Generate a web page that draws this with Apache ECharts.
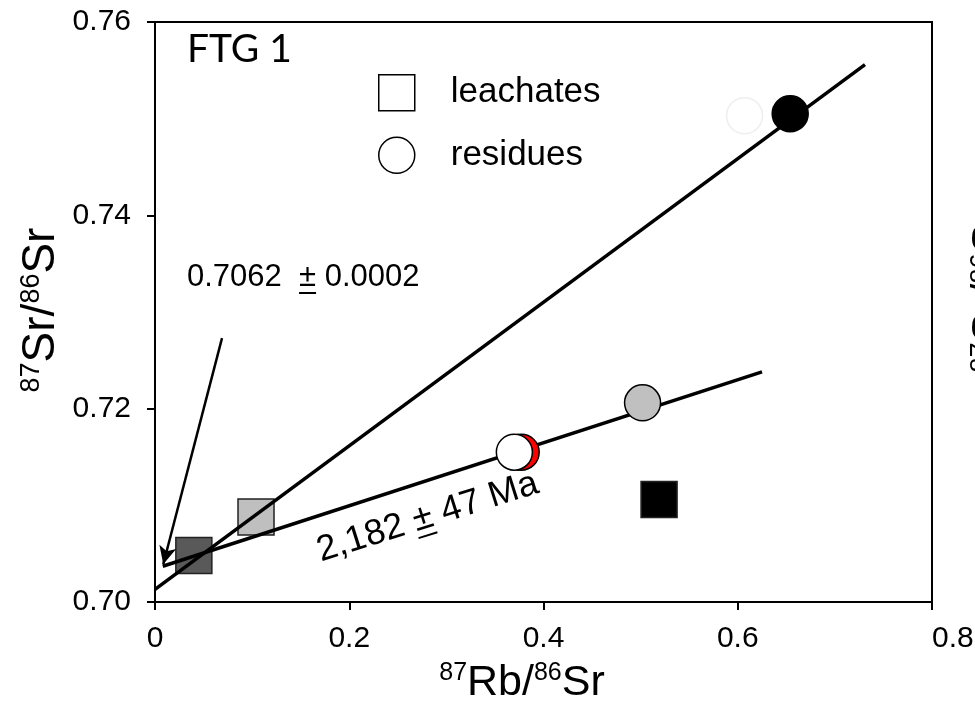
<!DOCTYPE html>
<html><head><meta charset="utf-8">
<script src="https://cdn.jsdelivr.net/npm/echarts@6/dist/echarts.min.js"></script>
<style>html,body{margin:0;padding:0;background:#fff}#c{width:975px;height:708px}</style>
</head><body><div id="c"></div>
<script>
// ---- data ----
const xTicks = [0, 0.2, 0.4, 0.6, 0.8];
const yTicks = [0.70, 0.72, 0.74, 0.76];
const leachNames = ['L1', 'L2', 'L3'];
const leachRb = [0.040, 0.104, 0.519];
const leachSr = [0.7048, 0.7088, 0.7106];
const resNames = ['R0', 'R1', 'R2', 'R3', 'R4'];
const resRb = [0.607, 0.377, 0.370, 0.502, 0.654];
const resSr = [0.7503, 0.7155, 0.7155, 0.7206, 0.7505];
const isoA_Rb = [0, 0.731];
const isoA_Sr = [0.7013, 0.7556];
const isoB_Rb = [0.008, 0.625];
const isoB_Sr = [0.7037, 0.7238];
const arrowRb = [0.069, 0.0085];
const arrowSr = [0.7273, 0.7039];
const initialText = ['0.7062  ', '±', ' 0.0002'];
const ageText = ['2,182 ', '±', ' 47 Ma'];
const sampleLabel = 'FTG 1';

// ---- styles ----
const leachFill = ['#595959', '#bfbfbf', '#000000'];
const resFill = ['#ffffff', '#ff0000', '#ffffff', '#c0c0c0', '#000000'];
const resBorder = ['#eeeeee', '#000', '#000', '#000', '#000'];
const FONT = '"Liberation Sans", Arial, sans-serif';

const pairs = (xs, ys) => xs.map((x, i) => [x, ys[i]]);
const ctx = document.createElement('canvas').getContext('2d');
function w(str, font) { ctx.font = font; return ctx.measureText(str).width; }

const annFont = '31px ' + FONT;
const ageFont = '36px ' + FONT;
const ia = w(initialText[0], annFont), ib = w(initialText[1], annFont);
const aa = w(ageText[0], ageFont), ab = w(ageText[1], ageFont);

const chart = echarts.init(document.getElementById('c'), null, {renderer: 'canvas'});
const richX = {
  m: {fontSize: 43, fontFamily: FONT, color: '#000', lineHeight: 46, verticalAlign: 'bottom'},
  s: {fontSize: 25, fontFamily: FONT, color: '#000', lineHeight: 46, verticalAlign: 'top', padding: [2, 0, 0, 0]}
};
const richY = {
  m: {fontSize: 46, fontFamily: FONT, color: '#000', lineHeight: 48, verticalAlign: 'bottom'},
  s: {fontSize: 27, fontFamily: FONT, color: '#000', lineHeight: 48, verticalAlign: 'top', padding: [2, 0, 0, 0]}
};

chart.setOption({
  animation: false,
  backgroundColor: '#fff',
  grid: {left: 155, right: 43, top: 22, bottom: 106, show: true, borderColor: '#000', borderWidth: 2,
         containLabel: false, outerBoundsMode: 'none'},
  legend: {
    orient: 'vertical', left: 373, top: 69, itemWidth: 36, itemHeight: 36, itemGap: 25,
    selectedMode: false,
    data: [
      {name: 'leachates', icon: 'rect', itemStyle: {color: '#fff', borderColor: '#000', borderWidth: 1.5, opacity: 1}},
      {name: 'residues', icon: 'circle', itemStyle: {color: '#fff', borderColor: '#000', borderWidth: 1.5, opacity: 1}}
    ],
    textStyle: {fontSize: 35, fontFamily: FONT, color: '#000', padding: [0, 0, 0, 31]}
  },
  xAxis: {
    type: 'value', min: xTicks[0], max: xTicks[xTicks.length - 1], interval: 0.2,
    axisLine: {show: true, lineStyle: {color: '#000', width: 2}},
    axisTick: {show: true, length: 8, lineStyle: {color: '#000', width: 2}},
    axisLabel: {fontSize: 30, fontFamily: FONT, color: '#000', margin: 22, alignMaxLabel: 'left',
                formatter: v => (Math.round(v * 10) / 10).toString()},
    splitLine: {show: false}
  },
  yAxis: {
    type: 'value', min: yTicks[0], max: yTicks[yTicks.length - 1], interval: 0.02,
    axisLine: {show: true, lineStyle: {color: '#000', width: 2}},
    axisTick: {show: true, length: 8, lineStyle: {color: '#000', width: 2}},
    axisLabel: {fontSize: 30, fontFamily: FONT, color: '#000', margin: 24,
                formatter: v => v.toFixed(2)},
    splitLine: {show: false}
  },
  series: [
    {
      name: 'leachates', type: 'scatter', symbol: 'rect', symbolSize: 36, z: 2,
      itemStyle: {opacity: 1},
      data: pairs(leachRb, leachSr).map((p, i) => ({name: leachNames[i], value: p,
        itemStyle: {color: leachFill[i], borderColor: '#222', borderWidth: 1.5, opacity: 1}}))
    },
    {
      name: 'isochron A', type: 'line', symbol: 'none', z: 3,
      data: pairs(isoA_Rb, isoA_Sr), lineStyle: {color: '#000', width: 3.5, opacity: 1}
    },
    {
      name: 'isochron B', type: 'line', symbol: 'none', z: 3,
      data: pairs(isoB_Rb, isoB_Sr), lineStyle: {color: '#000', width: 3.5, opacity: 1},
      markLine: {
        silent: true, symbol: ['none', 'arrow'], symbolSize: [13, 18],
        label: {show: false},
        lineStyle: {color: '#000', width: 2.5, type: 'solid', opacity: 1},
        data: [[{coord: [arrowRb[0], arrowSr[0]]}, {coord: [arrowRb[1], arrowSr[1]]}]]
      }
    },
    {
      name: 'residues', type: 'scatter', symbol: 'circle', symbolSize: 36, z: 4,
      itemStyle: {opacity: 1},
      data: pairs(resRb, resSr).map((p, i) => ({name: resNames[i], value: p,
        itemStyle: {color: resFill[i], borderColor: resBorder[i], borderWidth: 1.5, opacity: 1}}))
    }
  ],
  graphic: [
    {type: 'text', left: 187, top: 30, style: {text: sampleLabel, font: '39px Lato, "Open Sans", sans-serif', fill: '#000'}},
    // initial ratio annotation
    {type: 'group', x: 187, y: 277, children: [
      {type: 'text', x: 0, y: 0, style: {text: initialText.join(''), font: annFont, fill: '#000', textVerticalAlign: 'middle', textAlign: 'left'}},
      {type: 'line', shape: {x1: ia, y1: 16, x2: ia + ib, y2: 16}, style: {stroke: '#000', lineWidth: 2}}
    ]},
    // age annotation rotated along the isochron
    {type: 'group', x: 318, y: 552, rotation: 17.5 * Math.PI / 180, children: [
      {type: 'text', x: 0, y: 0, style: {text: ageText.join(''), font: ageFont, fill: '#000', textVerticalAlign: 'middle', textAlign: 'left'}},
      {type: 'line', shape: {x1: aa, y1: 17, x2: aa + ab, y2: 17}, style: {stroke: '#000', lineWidth: 2}}
    ]},
    // axis titles
    {type: 'text', x: 522, y: 682, style: {text: '{s|87}{m|Rb/}{s|86}{m|Sr}', rich: richX, textAlign: 'center', textVerticalAlign: 'middle'}},
    {type: 'text', x: 40, y: 310, rotation: Math.PI / 2, style: {text: '{s|87}{m|Sr/}{s|86}{m|Sr}', rich: richY, textAlign: 'center', textVerticalAlign: 'middle'}},
    // clipped neighbouring panel title at right edge
    {type: 'text', x: 990, y: 290, rotation: Math.PI / 2, style: {text: '{s|87}{m|Sr/}{s|86}{m|Sr}', rich: richY, textAlign: 'center', textVerticalAlign: 'middle'}}
  ]
});
</script></body></html>
